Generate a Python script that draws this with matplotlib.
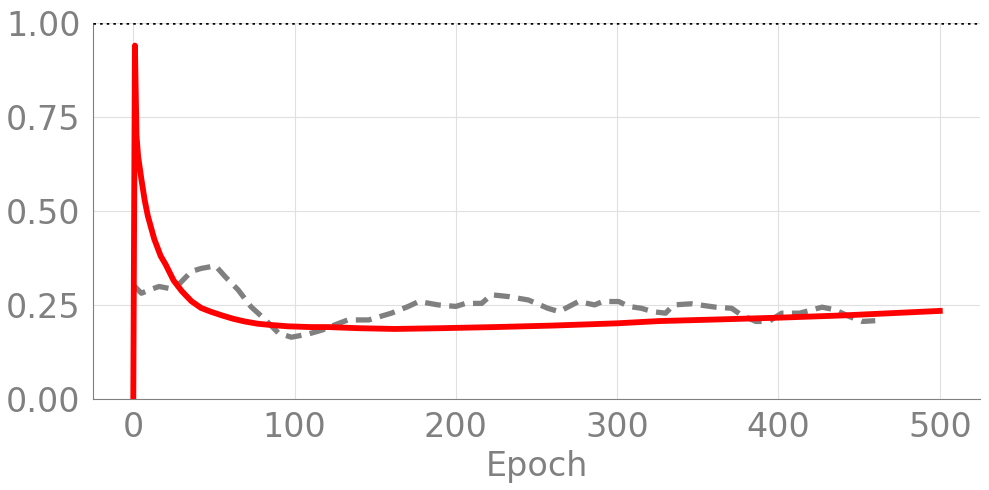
import matplotlib
matplotlib.use("Agg")
import matplotlib.pyplot as plt

# Red curve
red_epochs = [0, 1, 2, 3, 5, 7, 9, 13, 17, 20, 25, 30, 36, 42, 48, 55, 62, 69, 77, 84,
              96, 110, 121, 140, 162, 190, 224, 260, 300, 326, 360, 400, 440, 470, 500]
red_values = [0.0, 0.94, 0.70, 0.645, 0.585, 0.53, 0.487, 0.425, 0.38, 0.358, 0.315,
              0.287, 0.26, 0.242, 0.232, 0.222, 0.213, 0.206, 0.200, 0.197, 0.193,
              0.191, 0.191, 0.188, 0.186, 0.188, 0.191, 0.195, 0.201, 0.207, 0.211,
              0.216, 0.222, 0.228, 0.234]

# Gray dashed curve
gray_epochs = [0, 5, 10, 16, 22, 29, 36, 42, 51, 57, 65, 73, 82, 90, 98, 108, 117,
               125, 133, 146, 160, 170, 177, 189, 200, 206, 216, 222, 233, 245, 257,
               264, 276, 286, 291, 301, 307, 315, 322, 330, 335, 346, 361, 371, 377,
               386, 394, 402, 413, 421, 427, 435, 444, 452, 460]
gray_values = [0.303, 0.281, 0.29, 0.299, 0.294, 0.308, 0.339, 0.347, 0.354, 0.325,
               0.29, 0.245, 0.21, 0.175, 0.164, 0.172, 0.183, 0.197, 0.21, 0.21,
               0.228, 0.245, 0.259, 0.25, 0.246, 0.254, 0.254, 0.277, 0.272, 0.263,
               0.241, 0.232, 0.259, 0.25, 0.259, 0.259, 0.246, 0.241, 0.232, 0.228,
               0.25, 0.253, 0.244, 0.241, 0.223, 0.206, 0.206, 0.228, 0.228, 0.237,
               0.244, 0.237, 0.219, 0.206, 0.208]

xticks = [0, 100, 200, 300, 400, 500]
yticks = [0.0, 0.25, 0.5, 0.75, 1.0]
ytick_labels = ["0.00", "0.25", "0.50", "0.75", "1.00"]

fig = plt.figure(figsize=(9.89, 4.9), dpi=100)
ax = fig.add_axes([0.094, 0.186, 0.897, 0.767])

ax.plot(gray_epochs, gray_values, color="gray", lw=3.8, ls=(0, (3, 1.6)), zorder=3)
ax.plot(red_epochs, red_values, color="red", lw=4.2, zorder=4)
ax.axhline(1.0, color="black", ls=":", lw=1.8, zorder=5)

ax.set_xlim(-25, 525)
ax.set_ylim(0, 1.0)
ax.set_xticks(xticks)
ax.set_yticks(yticks)
ax.set_yticklabels(ytick_labels)
ax.grid(True, color="#e0e0e0", lw=0.8)
ax.set_axisbelow(True)
for s in ["top", "right"]:
    ax.spines[s].set_visible(False)
for s in ["left", "bottom"]:
    ax.spines[s].set_color("gray")
ax.tick_params(length=0, labelsize=24, colors="gray", pad=9)
ax.set_xlabel("Epoch", fontsize=24, color="gray", labelpad=4)

fig.savefig("out.png", dpi=100)
